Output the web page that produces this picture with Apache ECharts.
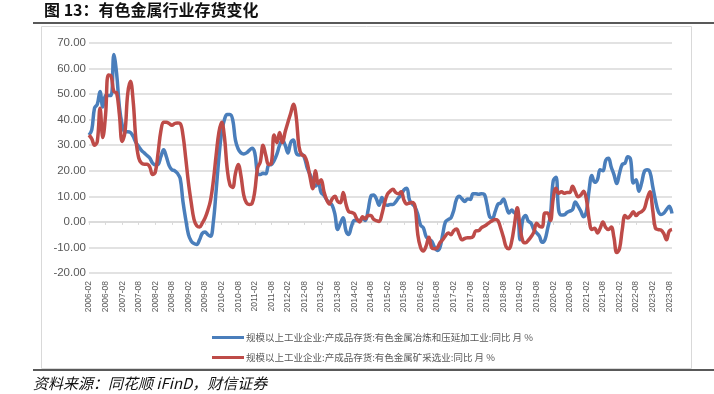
<!DOCTYPE html>
<html>
<head>
<meta charset="utf-8">
<script src="https://cdn.jsdelivr.net/npm/echarts@6/dist/echarts.min.js"></script>
<style>
html,body{margin:0;padding:0;background:#fff;}
#chart{width:714px;height:394px;}
</style>
</head>
<body>
<div id="chart"></div>
<script>
// Monthly categories 2006-02 .. 2023-09
const startYear = 2006, startMonth = 2, monthCount = 212;
const categories = [];
for (let i = 0; i < monthCount; i++) {
  const m = startMonth - 1 + i;
  const y = startYear + Math.floor(m / 12);
  const mm = (m % 12) + 1;
  categories.push(y + '-' + (mm < 10 ? '0' + mm : mm));
}

const smeltingName = '规模以上工业企业:产成品存货:有色金属冶炼和压延加工业:同比 月 %';
const miningName = '规模以上工业企业:产成品存货:有色金属矿采选业:同比 月 %';

const smelting = [
  34, 36, 44.5, 46, 51, 45, 49.5, 49.5, 49.5, 65.5, 58, 45,
  38, 35.3, 35.3, 35, 33.4, 31, 29.5, 28, 27, 26, 25, 23,
  22.3, 22.5, 25.5, 28.2, 25.5, 22, 20.4, 20, 19, 17, 8, 1,
  -5, -7.5, -8.5, -8.8, -7, -4.5, -4, -5, -5.6, 0, 12, 25,
  35, 40, 42, 42, 40, 32, 28.5, 27, 26.6, 27, 28, 28.8,
  27, 19, 18.5, 19, 18.8, 22.3, 22.5, 24, 26.5, 30, 32, 30,
  27, 31, 32, 27, 26.2, 26.5, 25, 21, 18.6, 16, 14, 15.2,
  11.5, 10.5, 8.7, 7.5, 6.5, 3, -3, -0.5, 1.6, -3.5, -4.9, -1.7,
  0.5, 0.5, 0.5, 1.5, 0.5, 4.5, 10, 10.5, 9, 6.5, 9.5, 7,
  6.5, 6.8, 6.8, 7.8, 9.4, 10.5, 12.5, 13.2, 8.5, 7, 5.8, 3,
  -1.3, -2.3, -5.7, -6.8, -7.5, -9.8, -11.2, -10.1, -5, 0, 0.9, 1.6,
  4.5, 8.8, 10, 9, 8, 9, 8.8, 11, 11, 10.8, 11, 10.8,
  7, 2, 1.5, 4, 6.9, 7.4, 9, 6.1, 3.5, 4.7, 3.5, 3.5,
  -7, 1, 2.5, 0.3, -0.5, -3, -4.3, -5.6, -8, -7, -2.5, 2.5,
  16, 17.5, 4.5, 2.7, 2.8, 3.7, 4.2, 4.8, 7.8, 6.2, 4.2, 2,
  4, 12.5, 18.2, 15.5, 16.5, 20.4, 20, 24, 24.9, 21.5, 18.5, 15,
  19, 22.5, 23, 25.5, 24.5, 15.2, 16.5, 12, 15.2, 19.7, 20.4, 19.5,
  14, 8.5, 4.2, 2.9, 3.4, 4.8, 6.1, 3.3
];

const mining = [
  34, 32.5, 30, 31.5, 44.5, 33, 42, 57.5, 57, 51, 50.5, 42,
  31.5, 35, 50, 55, 47, 32, 25, 23, 22.6, 22.6, 21.5, 18.5,
  19.5, 27, 35.5, 39, 39, 38.5, 37.8, 38.5, 38.7, 38.5, 34, 25,
  15.2, 7.5, 1, -1.5, -2, -0.5, 1.5, 4.5, 8.5, 16, 26, 35,
  39, 33.4, 21, 14.5, 13.5, 19, 22.5, 18, 10.5, 7.4, 6.8, 7.2,
  12, 21, 23.5, 30, 26, 22.5, 23, 34, 31, 35, 31, 35.3,
  39, 42.5, 46, 41, 29.5, 26.2, 25.8, 23, 17.5, 13, 20, 15,
  16.5, 12, 8.7, 7, 9, 10, 8, 7.5, 11.5, 7, 4, 3.7,
  3.2, 1, 0, 2, 1.2, 2.5, 2.5, 1, 0.5, 0.2, 3, 7.5,
  10.8, 12, 12.8, 11.5, 11, 11.8, 8.5, 7, 7.4, 7.6, 6, -5,
  -10, -11.4, -9.5, -6, -10.1, -10.5, -10.2, -8.2, -7, -5.5, -4.3, -5,
  -3.5, -2.8, -5, -7, -6.5, -6.2, -6.2, -5.8, -3.5, -3.4, -2.3, -1.7,
  -1, -0.2, 0.5, 0.9, 0.5, -2.5, -6, -9.8, -10.5, -7.5, -1, 5.5,
  -2, -7.5, -8.2, -7.2, -5.8, -4, -0.5, -1.7, -2, 3.5, 3.5, 0.5,
  9, 13.2, 11.2, 11.8, 11.2, 11.5, 11.5, 13.9, 11.8, 9.8, 10.5, 12,
  9, 1, -3, -2.5, -4.3, -2.5, 0, -2.2, -3, -2, -6.2, -12,
  -10.5, -3, 2.5, 1.5, 2.5, 4, 2.5, 3.5, 4, 5.2, 9, 11.8,
  4.8, -2.5, -3, -3.2, -4.5, -7, -3.6, -3
];

const yMin = -20, yMax = 70, yStep = 10;

const chart = echarts.init(document.getElementById('chart'), null, {renderer: 'canvas'});
chart.setOption({
  animation: false,
  backgroundColor: '#ffffff',
  graphic: [
    {type: 'rect', shape: {x: 41.5, y: 26.5, width: 650, height: 342}, style: {fill: 'none', stroke: '#d9d9d9', lineWidth: 1}, z: -1},
    {type: 'line', shape: {x1: 33, y1: 23, x2: 714, y2: 23}, style: {stroke: '#222', lineWidth: 1.7}},
    {type: 'line', shape: {x1: 33, y1: 370, x2: 714, y2: 370}, style: {stroke: '#222', lineWidth: 1.5}},
    {type: 'text', left: 44, top: 2, style: {text: '图 13：有色金属行业存货变化', font: 'bold 16px "Noto Sans CJK SC"', fill: '#111'}},
    {type: 'text', left: 33, top: 376, style: {text: '资料来源：同花顺 iFinD，财信证券', font: 'italic 15px "Noto Sans CJK SC"', fill: '#111'}}
  ],
  grid: {left: 89, right: 42, top: 43, bottom: 121, containLabel: false},
  legend: {
    orient: 'vertical', left: 207, top: 326.5,
    itemWidth: 32, itemHeight: 3, itemGap: 8,
    icon: 'rect',
    textStyle: {fontSize: 9.5, color: '#595959', fontFamily: '"Noto Sans CJK SC"', lineHeight: 12, padding: [0, 0, 0, -3]},
    data: [smeltingName, miningName]
  },
  xAxis: [
    {
      type: 'category', data: categories, boundaryGap: false,
      axisLine: {show: false, onZero: false},
      axisTick: {show: false},
      splitLine: {show: false},
      axisLabel: {interval: 5, rotate: 90, margin: 8, fontSize: 8.5, color: '#595959', fontFamily: '"Liberation Sans"'}
    },
    {
      type: 'category', data: categories, boundaryGap: false, position: 'bottom',
      axisLine: {show: true, onZero: true, lineStyle: {color: '#d9d9d9', width: 1.5}},
      axisTick: {show: true, interval: 5, length: 3, lineStyle: {color: '#d9d9d9'}},
      axisLabel: {show: false},
      splitLine: {show: false}
    }
  ],
  yAxis: {
    type: 'value', min: yMin, max: yMax, interval: yStep,
    axisLine: {show: false}, axisTick: {show: false},
    splitLine: {lineStyle: {color: '#d9d9d9', width: 1.5}},
    axisLabel: {formatter: v => v.toFixed(2), margin: 3, fontSize: 11.5, color: '#595959', fontFamily: '"Liberation Sans"'}
  },
  series: [
    {name: smeltingName, type: 'line', data: smelting, smooth: 0.4, showSymbol: false, lineStyle: {width: 3.5, color: '#4A7EBB'}, itemStyle: {color: '#4A7EBB'}},
    {name: miningName, type: 'line', data: mining, smooth: 0.4, showSymbol: false, lineStyle: {width: 3.5, color: '#BE4B48'}, itemStyle: {color: '#BE4B48'}}
  ]
});
</script>
</body>
</html>
